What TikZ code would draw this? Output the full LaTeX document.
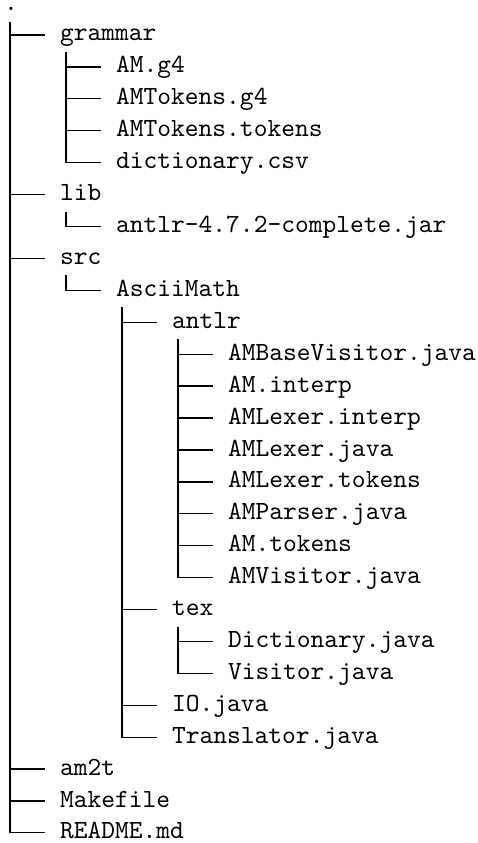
\documentclass[tikz,border=0pt]{standalone}
\usepackage{fontspec}
\setmonofont{lmmono10-regular.otf}
\begin{document}
\begin{tikzpicture}[x=1pt,y=1pt,
  item/.style={anchor=base west,inner sep=0pt,font=\fontsize{26.2}{31.9}\selectfont\ttfamily},
  conn/.style={line width=1.3pt}]
\useasboundingbox (0,0) rectangle (478,-843);
\newcommand\branchto[2]{\draw[conn] ([shift={(6,-11)}]#1.base west) |- ([shift={(-15,6)}]#2.base west);}
\node[item] (root) at (4,-11) {.};
\node[item] (grammar) at (60,-41) {grammar};
\node[item] (amg4) at (116,-72.9) {AM.g4};
\node[item] (amtokg4) at (116,-104.8) {AMTokens.g4};
\node[item] (amtoktok) at (116,-136.8) {AMTokens.tokens};
\node[item] (dict) at (116,-168.7) {dictionary.csv};
\node[item] (lib) at (60,-200.6) {lib};
\node[item] (jar) at (116,-232.5) {antlr-4.7.2-complete.jar};
\node[item] (src) at (60,-264.4) {src};
\node[item] (ascii) at (116,-296.4) {AsciiMath};
\node[item] (antlr) at (172,-328.3) {antlr};
\node[item] (basevis) at (228,-360.2) {AMBaseVisitor.java};
\node[item] (aminterp) at (228,-392.1) {AM.interp};
\node[item] (lexinterp) at (228,-424.0) {AMLexer.interp};
\node[item] (lexjava) at (228,-456.0) {AMLexer.java};
\node[item] (lextok) at (228,-487.9) {AMLexer.tokens};
\node[item] (parjava) at (228,-519.8) {AMParser.java};
\node[item] (amtok) at (228,-551.7) {AM.tokens};
\node[item] (amvis) at (228,-583.6) {AMVisitor.java};
\node[item] (tex) at (172,-615.6) {tex};
\node[item] (dictjava) at (228,-647.5) {Dictionary.java};
\node[item] (visjava) at (228,-679.4) {Visitor.java};
\node[item] (io) at (172,-711.3) {IO.java};
\node[item] (trans) at (172,-743.2) {Translator.java};
\node[item] (am2t) at (60,-775.1) {am2t};
\node[item] (make) at (60,-807.1) {Makefile};
\node[item] (readme) at (60,-838.5) {README.md};
\branchto{root}{grammar}
\branchto{root}{lib}
\branchto{root}{src}
\branchto{root}{am2t}
\branchto{root}{make}
\branchto{root}{readme}
\branchto{grammar}{amg4}
\branchto{grammar}{amtokg4}
\branchto{grammar}{amtoktok}
\branchto{grammar}{dict}
\branchto{lib}{jar}
\branchto{src}{ascii}
\branchto{ascii}{antlr}
\branchto{ascii}{tex}
\branchto{ascii}{io}
\branchto{ascii}{trans}
\branchto{antlr}{basevis}
\branchto{antlr}{aminterp}
\branchto{antlr}{lexinterp}
\branchto{antlr}{lexjava}
\branchto{antlr}{lextok}
\branchto{antlr}{parjava}
\branchto{antlr}{amtok}
\branchto{antlr}{amvis}
\branchto{tex}{dictjava}
\branchto{tex}{visjava}
\end{tikzpicture}
\end{document}
